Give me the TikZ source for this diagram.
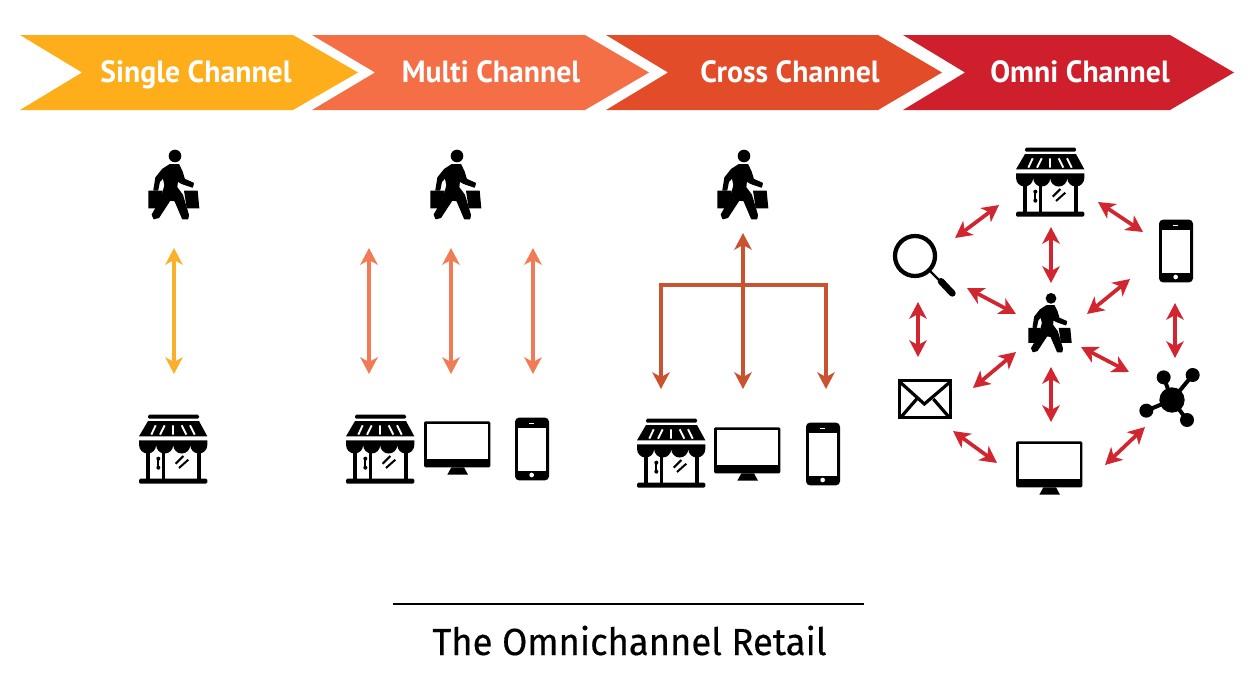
\documentclass[tikz,border=0pt]{standalone}
\usepackage{fontspec}
\setsansfont{PT Sans}
\newfontfamily\titlefont[FakeBold=.35]{Fira Sans}
\usetikzlibrary{arrows.meta}

\definecolor{chanyellow}{HTML}{FDAE1A}
\definecolor{chanorange}{HTML}{F46F45}
\definecolor{chanrust}{HTML}{E34C28}
\definecolor{chanred}{HTML}{CF1F2D}
\definecolor{arrowyellow}{HTML}{FBB02C}
\definecolor{arroworange}{HTML}{F07B54}
\definecolor{arrowrust}{HTML}{C9532F}
\definecolor{arrowred}{HTML}{D1262F}

\tikzset{
  chanarrow/.style={line width=2.8pt, {Stealth[length=12.5pt,width=13pt,inset=3.5pt]}-{Stealth[length=12.5pt,width=13pt,inset=3.5pt]}},
  uparrow/.style={line width=3.4pt, -{Stealth[length=12.5pt,width=13pt,inset=3.5pt]}},
  chanlabel/.style={anchor=base, text=white, font=\sffamily\bfseries\fontsize{23}{23}\selectfont, xscale=.97, transform shape},
  % icons, drawn in thirds of a pixel around their centre
  shopper/.pic={
    \begin{scope}[scale=1/3,shift={(-165,-135)}]
      \fill (165,48) circle (19);
      \filldraw[line width=1pt, line join=round] (128,88) -- (150,74) -- (176,74) -- (186,95) -- (193,118) -- (220,130) -- (217,141) -- (185,130) -- (172,122) -- (170,142) -- (187,165) -- (205,225) -- (203,236) -- (188,236) -- (165,182) -- (150,180) -- (116,232) -- (102,236) -- (97,224) -- (125,175) -- (135,135) -- (130,112) -- (118,125) -- (113,150) -- (102,150) -- (108,113) -- cycle;
      \fill (85,152) -- (128,152) -- (128,185) -- (118,205) -- (85,205) -- cycle;
      \fill (192,152) -- (233,152) -- (238,205) -- (200,205) -- cycle;
    \end{scope}
  },
  shop/.pic={
    \begin{scope}[scale=1/3]
      \fill[rounded corners=1pt] (-75,-103) rectangle (78,-91);
      \fill (-75,-84) -- (78,-84) -- (103,-38) -- (-102,-38) -- cycle;
      \fill (-102,-26) -- (103,-26) -- (103,-12) arc[start angle=0,end angle=180,radius=25.6] arc[start angle=0,end angle=180,radius=25.6] arc[start angle=0,end angle=180,radius=25.6] arc[start angle=0,end angle=180,radius=25.6] -- cycle;
      \draw[white, line width=1.4pt] (-52,-71) -- (-65,-43) (-25,-71) -- (-39,-43) (0,-71) -- (0,-43) (26,-71) -- (40,-43) (51,-71) -- (65,-43);
      \fill (-82,0) rectangle (-69,94);
      \fill (71,0) rectangle (85,94);
      \fill (-32,0) rectangle (-24,94);
      \fill[rounded corners=1pt] (-102,89) rectangle (103,104);
      \draw[line width=1.4pt] (-44,26) -- (-44,59);
      \fill (-44,29) circle (6) (-44,56) circle (6);
      \draw[line width=1.5pt] (8,44) -- (31,21) (18,57) -- (46,32);
    \end{scope}
  },
  monitor/.pic={
    \begin{scope}[scale=1/3]
      \fill[rounded corners=1pt] (-99,-80) rectangle (100,58);
      \fill[white] (-91,-72) rectangle (93,33);
      \fill (-17,58) -- (21,58) -- (33,80) -- (-29,80) -- cycle;
    \end{scope}
  },
  phone/.pic={
    \begin{scope}[scale=1/3]
      \fill[rounded corners=3pt] (-51,-94) rectangle (51,94);
      \fill[white] (-41,-64) rectangle (41,66);
      \fill[white] (-9,-79) rectangle (7,-76);
      \fill[white] (-1,78) circle (7);
    \end{scope}
  },
  lens/.pic={
    \begin{scope}[scale=1/3]
      \draw[line width=3.2pt] (0,0) circle (60);
      \draw[line width=1.8pt] (42,42) -- (78,78);
      \draw[line width=5pt, line cap=round] (78,76) -- (112,112);
    \end{scope}
  },
  envelope/.pic={
    \begin{scope}[scale=1/3]
      \draw[line width=2.4pt] (-76,-55) rectangle (76,55);
      \draw[line width=2.4pt] (-74,-50) -- (-2,15) -- (74,-50);
      \draw[line width=2.4pt] (-70,52) -- (-25,0) (70,52) -- (25,0);
    \end{scope}
  },
  hub/.pic={
    \begin{scope}[scale=1/3]
      \draw[line width=3pt] (0,0) -- (-25,-68) (0,0) -- (62,-75) (0,0) -- (-77,32) (0,0) -- (45,60);
      \fill (0,0) circle (38);
      \fill (-25,-68) circle (21) (62,-75) circle (21) (-77,32) circle (21) (45,60) circle (21);
    \end{scope}
  }
}

\begin{document}
\begin{tikzpicture}[x=.75pt,y=-.75pt]
  \useasboundingbox (0,0) rectangle (1256,678);

  % Banner
  \fill[chanyellow] (20,35) -- (293,35) -- (358,72.5) -- (293,110) -- (20,110) -- (82,72.5) -- cycle;
  \fill[chanorange] (312,35) -- (585,35) -- (649,72.5) -- (585,110) -- (312,110) -- (375,72.5) -- cycle;
  \fill[chanrust] (606,35) -- (878,35) -- (942,72.5) -- (878,110) -- (606,110) -- (668,72.5) -- cycle;
  \fill[chanred] (903,35) -- (1170,35) -- (1234,72.5) -- (1170,110) -- (903,110) -- (965,72.5) -- cycle;
  \node[chanlabel] (single) at (196,82) {Single Channel};
  \node[chanlabel] (multi) at (491,82) {Multi Channel};
  \node[chanlabel] (cross) at (790,82) {Cross Channel};
  \node[chanlabel] (omni) at (1080,82) {Omni Channel};

  % Single channel
  \pic at (175,185) {shopper};
  \pic at (173,449) {shop};
  \coordinate (sa) at (174,248);
  \coordinate (sb) at (174,374);
  \draw[chanarrow, arrowyellow] (sa) -- (sb);

  % Multi channel
  \pic at (457,185) {shopper};
  \pic at (380,449) {shop};
  \pic at (457,448) {monitor};
  \pic at (532,449) {phone};
  \coordinate (ma1) at (369,248);
  \coordinate (mb1) at (369,374);
  \coordinate (ma2) at (451,248);
  \coordinate (mb2) at (451,374);
  \coordinate (ma3) at (533,248);
  \coordinate (mb3) at (533,374);
  \draw[chanarrow, arroworange] (ma1) -- (mb1);
  \draw[chanarrow, arroworange] (ma2) -- (mb2);
  \draw[chanarrow, arroworange] (ma3) -- (mb3);

  % Cross channel
  \pic at (744,185) {shopper};
  \pic at (671,453) {shop};
  \pic at (747,454) {monitor};
  \pic at (823,454) {phone};
  \coordinate (ctop) at (743,233);
  \coordinate (cmid) at (743,285);
  \coordinate (cleft) at (661,285);
  \coordinate (cright) at (826,285);
  \coordinate (cb1) at (661,389);
  \coordinate (cb2) at (743,389);
  \coordinate (cb3) at (826,389);
  \draw[uparrow, arrowrust] (cmid) -- (ctop);
  \draw[uparrow, arrowrust] (cmid) -- (cb2);
  \draw[uparrow, arrowrust] (cmid) -- (cleft) -- (cb1);
  \draw[uparrow, arrowrust] (cmid) -- (cright) -- (cb3);

  % Omni channel
  \pic at (1050,182) {shop};
  \pic at (1176,251) {phone};
  \pic at (915,256) {lens};
  \pic[scale=.85] at (1051,323) {shopper};
  \pic at (925,399) {envelope};
  \pic at (1172,400) {hub};
  \pic at (1049,468) {monitor};
  \coordinate (oa1) at (999,205);
  \coordinate (ob1) at (955,238);
  \coordinate (oa2) at (1098,202);
  \coordinate (ob2) at (1143,232);
  \coordinate (oa3) at (1051,227);
  \coordinate (ob3) at (1051,283);
  \coordinate (oa4) at (967,288);
  \coordinate (ob4) at (1016,314);
  \coordinate (oa5) at (1130,279);
  \coordinate (ob5) at (1087,314);
  \coordinate (oa6) at (918,302);
  \coordinate (ob6) at (918,357);
  \coordinate (oa7) at (1175,303);
  \coordinate (ob7) at (1175,358);
  \coordinate (oa8) at (1016,352);
  \coordinate (ob8) at (973,388);
  \coordinate (oa9) at (1081,347);
  \coordinate (ob9) at (1129,372);
  \coordinate (oa10) at (1051,367);
  \coordinate (ob10) at (1051,422);
  \coordinate (oa11) at (953,431);
  \coordinate (ob11) at (997,463);
  \coordinate (oa12) at (1145,427);
  \coordinate (ob12) at (1105,465);
  \draw[chanarrow, arrowred] (oa1) -- (ob1);
  \draw[chanarrow, arrowred] (oa2) -- (ob2);
  \draw[chanarrow, arrowred] (oa3) -- (ob3);
  \draw[chanarrow, arrowred] (oa4) -- (ob4);
  \draw[chanarrow, arrowred] (oa5) -- (ob5);
  \draw[chanarrow, arrowred] (oa6) -- (ob6);
  \draw[chanarrow, arrowred] (oa7) -- (ob7);
  \draw[chanarrow, arrowred] (oa8) -- (ob8);
  \draw[chanarrow, arrowred] (oa9) -- (ob9);
  \draw[chanarrow, arrowred] (oa10) -- (ob10);
  \draw[chanarrow, arrowred] (oa11) -- (ob11);
  \draw[chanarrow, arrowred] (oa12) -- (ob12);

  % Caption
  \coordinate (rulea) at (393,604);
  \coordinate (ruleb) at (864,604);
  \draw[line width=1.1pt] (rulea) -- (ruleb);
  \node[anchor=base, font=\titlefont\fontsize{28.3}{28.3}\selectfont, xscale=.965, transform shape] (title) at (629.5,655) {The Omnichannel Retail};
\end{tikzpicture}
\end{document}
